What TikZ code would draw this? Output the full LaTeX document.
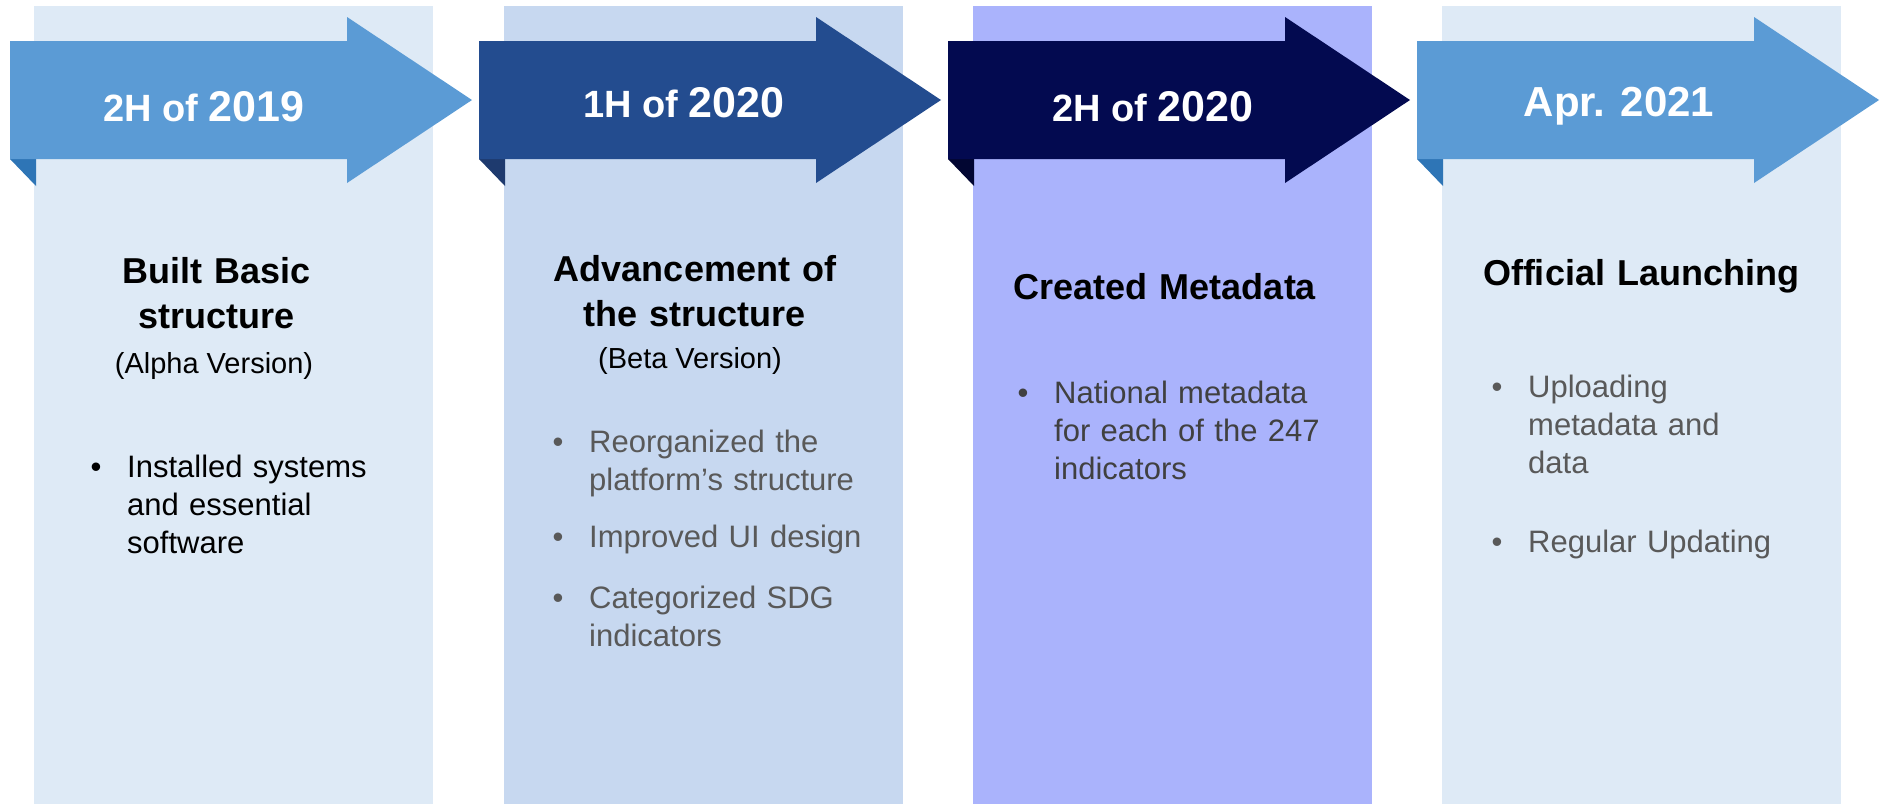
\documentclass[tikz,border=0pt]{standalone}
\usepackage{fontspec}
\setmainfont{Liberation Sans}
\usepackage{tikz}

\definecolor{paleblue}{HTML}{DEEAF6}
\definecolor{softblue}{HTML}{C7D8F0}
\definecolor{lavender}{HTML}{AAB3FC}
\definecolor{skyblue}{HTML}{5B9BD5}
\definecolor{skyfold}{HTML}{2E75B6}
\definecolor{royal}{HTML}{234C8F}
\definecolor{royalfold}{HTML}{1E3A6E}
\definecolor{navy}{HTML}{030A50}
\definecolor{navyfold}{HTML}{020632}
\definecolor{textgray}{HTML}{595959}
\definecolor{deepgray}{HTML}{404040}

\begin{document}
\begin{tikzpicture}[x=1pt, y=-1pt,
            phase column/.style={anchor=north west, inner sep=0pt, minimum width=399pt, minimum height=798pt},
            date label/.style={anchor=base, inner sep=0pt, text=white, font=\bfseries},
            heading/.style={anchor=base, text width=380pt, align=center, font=\bfseries\fontsize{36}{45}\selectfont},
            version/.style={anchor=base, inner sep=0pt, font=\fontsize{29}{35}\selectfont},
            bullet text/.style={anchor=base west, inner sep=0pt, text width=320pt, align=left, font=\fontsize{31}{38}\selectfont},
            bullet dot/.style={anchor=base, inner sep=0pt, font=\fontsize{31}{38}\selectfont}]

            \useasboundingbox (0,0) rectangle (1885,804);

            % Background columns
            \node[phase column, fill=paleblue] (alpha) at (34,6) {};
            \node[phase column, fill=softblue] (beta) at (504,6) {};
            \node[phase column, fill=lavender] (meta) at (973,6) {};
            \node[phase column, fill=paleblue] (launch) at (1442,6) {};

            % Ribbon arrows with folded corner
            \foreach \x/\body/\fold in {10/skyblue/skyfold, 479/royal/royalfold, 948/navy/navyfold, 1417/skyblue/skyfold} {
                \fill[\fold] (\x,159) -- ++(26,0) -- ++(0,27) -- cycle;
                \fill[\body] (\x,41) -- ++(337,0) -- ++(0,-24) -- ++(125,83) -- ++(-125,83) -- ++(0,-24) -- (\x,159) -- cycle;
            }

            % Dates
            \node[date label] (h2019) at (204,121) {{\fontsize{38}{40}\selectfont 2H of }{\fontsize{43}{45}\selectfont 2019}};
            \node[date label] (h2020a) at (684,117) {{\fontsize{38}{40}\selectfont 1H of }{\fontsize{43}{45}\selectfont 2020}};
            \node[date label] (h2020b) at (1153,121) {{\fontsize{38}{40}\selectfont 2H of }{\fontsize{43}{45}\selectfont 2020}};
            \node[date label] (apr2021) at (1619,116) {\fontsize{42}{45}\selectfont Apr. 2021};

            % Headings
            \node[heading] (built) at (217,283) {Built Basic\\structure};
            \node[version] (alphaver) at (214,373) {(Alpha Version)};
            \node[heading] (advance) at (695,281) {Advancement of\\the structure};
            \node[version] (betaver) at (690,368) {(Beta Version)};
            \node[heading] (created) at (1165,299) {Created Metadata};
            \node[heading] (official) at (1641,285) {Official Launching};

            % Bullet items
            \node[bullet text] (installed) at (127,477) {Installed systems\\and essential\\software};
            \node[bullet dot] (installed-dot) at ([xshift=-31pt]installed.base west) {•};

            \node[bullet text, text=textgray] (reorg) at (589,452) {Reorganized the\\platform’s structure};
            \node[bullet dot, text=textgray] (reorg-dot) at ([xshift=-31pt]reorg.base west) {•};
            \node[bullet text, text=textgray] (uidesign) at (589,547) {Improved UI design};
            \node[bullet dot, text=textgray] (uidesign-dot) at ([xshift=-31pt]uidesign.base west) {•};
            \node[bullet text, text=textgray] (sdg) at (589,608) {Categorized SDG\\indicators};
            \node[bullet dot, text=textgray] (sdg-dot) at ([xshift=-31pt]sdg.base west) {•};

            \node[bullet text, text=deepgray] (national) at (1054,403) {National metadata\\for each of the 247\\indicators};
            \node[bullet dot, text=deepgray] (national-dot) at ([xshift=-31pt]national.base west) {•};

            \node[bullet text, text=textgray] (upload) at (1528,397) {Uploading\\metadata and\\data};
            \node[bullet dot, text=textgray] (upload-dot) at ([xshift=-31pt]upload.base west) {•};
            \node[bullet text, text=textgray] (regular) at (1528,552) {Regular Updating};
            \node[bullet dot, text=textgray] (regular-dot) at ([xshift=-31pt]regular.base west) {•};
        \end{tikzpicture}
\end{document}
